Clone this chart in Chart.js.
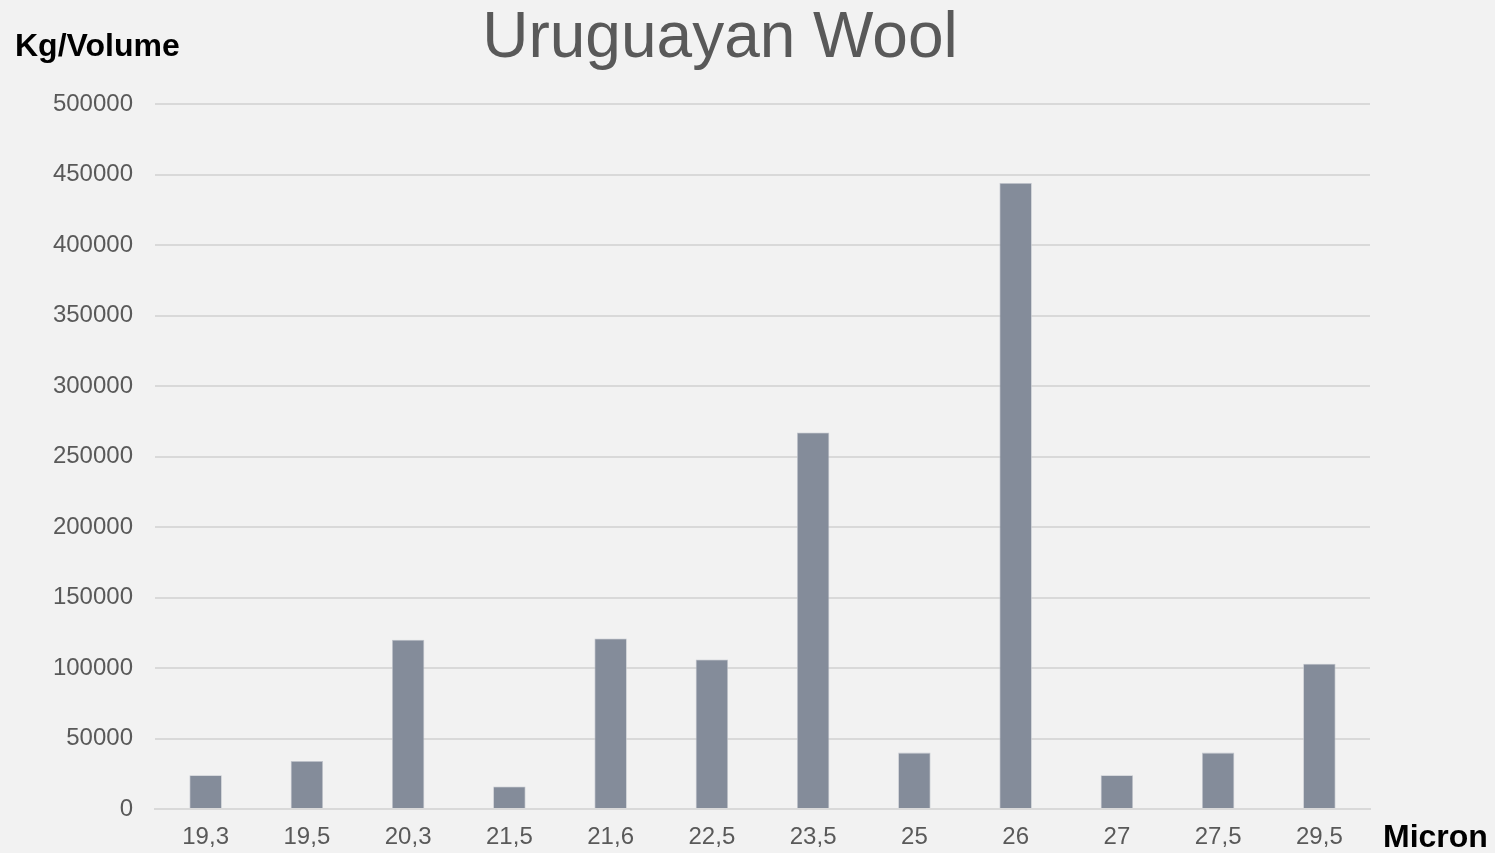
<!DOCTYPE html>
<html lang="en">
<head>
  <meta charset="UTF-8">
  <title>Uruguayan Wool</title>
  <script src="https://cdn.jsdelivr.net/npm/chart.js"></script>
  <style>
    html, body { margin: 0; padding: 0; background: #f2f2f2; }
    .chart-container { width: 1495px; height: 853px; }
  </style>
</head>
<body>

<div class="chart-container">
  <canvas id="woolChart"></canvas>
</div>

<script>
  // Micron categories and volume (kg) per category
  const microns = ['19,3', '19,5', '20,3', '21,5', '21,6', '22,5', '23,5', '25', '26', '27', '27,5', '29,5'];
  const volumes = [24000, 34000, 120000, 16000, 121000, 106000, 267000, 40000, 444000, 24000, 40000, 103000];

  const chartTitle = 'Uruguayan Wool';
  const yLabel = 'Kg/Volume';
  const xLabel = 'Micron';

  // draws the background, title and the two axis labels
  const labelsPlugin = {
    id: 'labels',
    beforeDraw(chart) {
      const ctx = chart.ctx;
      ctx.save();
      ctx.fillStyle = '#f2f2f2';
      ctx.fillRect(0, 0, chart.width, chart.height);
      ctx.restore();
    },
    afterDraw(chart) {
      const ctx = chart.ctx;
      ctx.save();
      ctx.textBaseline = 'middle';
      ctx.fillStyle = '#595959';
      ctx.font = '64px "Liberation Sans", Arial, sans-serif';
      ctx.textAlign = 'center';
      ctx.fillText(chartTitle, 720, 39);

      ctx.fillStyle = '#000000';
      ctx.font = 'bold 32px "Liberation Sans", Arial, sans-serif';
      ctx.textAlign = 'left';
      ctx.fillText(yLabel, 15, 47);
      ctx.font = 'bold 32px "Liberation Sans", Arial, sans-serif';
      ctx.fillText(xLabel, 1383, 838);
      ctx.restore();
    }
  };

  const ctx = document.getElementById('woolChart').getContext('2d');
  new Chart(ctx, {
    type: 'bar',
    data: {
      labels: microns,
      datasets: [{
        label: 'Kg/Volume',
        data: volumes,
        backgroundColor: '#848c9a',
        borderColor: '#c3c7ce',
        borderWidth: 0.8,
        barPercentage: 0.32,
        categoryPercentage: 1
      }]
    },
    options: {
      responsive: true,
      maintainAspectRatio: false,
      animation: false,
      layout: {
        padding: { left: 0, right: 125, top: 104, bottom: 0 }
      },
      scales: {
        x: {
          grid: { display: false, drawTicks: false },
          border: { color: '#d9d9d9', width: 2 },
          ticks: {
            color: '#595959',
            font: { size: 24, family: '"Liberation Sans", Arial, sans-serif' },
            padding: 14,
            maxRotation: 0
          },
          afterFit(scale) { scale.height = 44; }
        },
        y: {
          min: 0,
          max: 500000,
          grid: { color: '#d9d9d9', lineWidth: 2, drawTicks: false },
          border: { display: false },
          ticks: {
            stepSize: 50000,
            color: '#595959',
            font: { size: 24, family: '"Liberation Sans", Arial, sans-serif' },
            padding: 22,
            callback: value => String(value)
          },
          afterFit(scale) { scale.width = 155; }
        }
      },
      plugins: {
        legend: { display: false },
        title: { display: false },
        tooltip: { enabled: false }
      }
    },
    plugins: [labelsPlugin]
  });
</script>

</body>
</html>
